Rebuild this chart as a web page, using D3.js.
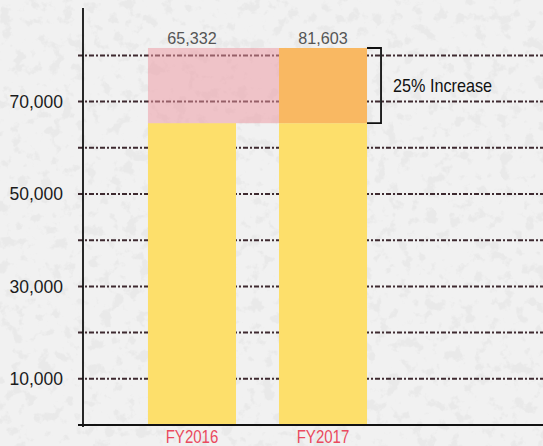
<!DOCTYPE html>
<html>
<head>
<meta charset="utf-8">
<script src="https://cdn.jsdelivr.net/npm/d3@7/dist/d3.min.js"></script>
<style>
  html, body { margin: 0; padding: 0; background: #efefef; }
  svg { display: block; }
</style>
</head>
<body>
<svg id="chart" width="543" height="446"></svg>
<script>
// ---- data ----
const categories = ["FY2016", "FY2017"];
const values = [65332, 81603];
const valueLabels = ["65,332", "81,603"];
const gridValues = [10000, 20000, 30000, 40000, 50000, 60000, 70000, 80000];
const tickLabelValues = [10000, 30000, 50000, 70000];
const annotationText = "25% Increase";

const W = 543, H = 446;
const svg = d3.select("#chart");

// background with subtle paper texture
const defs = svg.append("defs");
const f = defs.append("filter").attr("id", "paper").attr("x", 0).attr("y", 0).attr("width", "100%").attr("height", "100%");
f.append("feTurbulence").attr("type", "fractalNoise").attr("baseFrequency", 0.08).attr("numOctaves", 4).attr("seed", 11).attr("result", "n");
f.append("feColorMatrix").attr("in", "n").attr("type", "matrix")
  .attr("values", "0 0 0 0 0.45  0 0 0 0 0.45  0 0 0 0 0.45  0 0 0 -8 3.6");
svg.append("rect").attr("width", W).attr("height", H).attr("fill", "#f1f1f1");
svg.append("rect").attr("width", W).attr("height", H).attr("filter", "url(#paper)").attr("opacity", 0.12);

// scales
const y = d3.scaleLinear().domain([0, 80000]).range([425, 425 - 8 * 46.2]);
const x = d3.scaleBand().domain(categories).range([105, 410]).paddingInner(0.328).paddingOuter(0.328);

// gridlines
svg.append("g").selectAll("line").data(gridValues).join("line")
  .attr("x1", 78).attr("x2", W)
  .attr("y1", d => y(d)).attr("y2", d => y(d))
  .attr("stroke", "#3e2a30").attr("stroke-width", 2)
  .attr("stroke-dasharray", "5,2,2,2");

// y tick labels
const yAxis = d3.axisLeft(y).tickValues(tickLabelValues).tickFormat(d3.format(",")).tickSize(0).tickPadding(20);
const ya = svg.append("g").attr("transform", "translate(83,0)").call(yAxis);
ya.select(".domain").remove();
ya.selectAll("text").attr("font-family", "Liberation Sans, Arial, sans-serif").attr("font-size", 17.5).attr("fill", "#1b1b1b");

// base (yellow) bars, up to FY2016 level
const base = values[0];
svg.append("g").selectAll("rect").data(categories).join("rect")
  .attr("x", d => x(d)).attr("width", x.bandwidth())
  .attr("y", y(base)).attr("height", y(0) - y(base))
  .attr("fill", "#fddf6b");

// FY2017 increase portion (orange)
svg.append("rect")
  .attr("x", x(categories[1])).attr("width", x.bandwidth())
  .attr("y", y(values[1])).attr("height", y(base) - y(values[1]))
  .attr("fill", "#f9b862");

// pink ghost region (FY2016 to FY2017 gap)
svg.append("rect")
  .attr("x", x(categories[0])).attr("width", x(categories[1]) - x(categories[0]))
  .attr("y", y(values[1])).attr("height", y(base) - y(values[1]))
  .attr("fill", "#ee96a0").attr("opacity", 0.5);

// axes lines
svg.append("line").attr("x1", 83).attr("x2", 83).attr("y1", 8).attr("y2", 427)
  .attr("stroke", "#111").attr("stroke-width", 1.8);
svg.append("line").attr("x1", 78).attr("x2", W).attr("y1", y(0)).attr("y2", y(0))
  .attr("stroke", "#111").attr("stroke-width", 1.8);

// value labels
svg.append("g").selectAll("text").data(categories).join("text")
  .attr("transform", d => `translate(${x(d) + x.bandwidth() / 2},44) scale(0.95,1)`)
  .attr("text-anchor", "middle")
  .attr("font-family", "Liberation Sans, Arial, sans-serif").attr("font-size", 17)
  .attr("fill", "#555")
  .text((d, i) => valueLabels[i]);

// category labels
svg.append("g").selectAll("text").data(categories).join("text")
  .attr("transform", d => `translate(${x(d) + x.bandwidth() / 2},443) scale(0.86,1)`)
  .attr("text-anchor", "middle")
  .attr("font-family", "Liberation Sans, Arial, sans-serif").attr("font-size", 17.5)
  .attr("fill", "#ea4a5e")
  .text(d => d);

// bracket
const bx = x(categories[1]) + x.bandwidth();
svg.append("path")
  .attr("d", `M${bx},${y(values[1])} H${bx + 14} V${y(base)} H${bx}`)
  .attr("fill", "none").attr("stroke", "#111").attr("stroke-width", 1.8);
svg.append("text")
  .attr("transform", `translate(393,${(y(values[1]) + y(base)) / 2 + 6}) scale(0.9,1)`)
  .attr("font-family", "Liberation Sans, Arial, sans-serif").attr("font-size", 18)
  .attr("fill", "#111")
  .text(annotationText);
</script>
</body>
</html>
